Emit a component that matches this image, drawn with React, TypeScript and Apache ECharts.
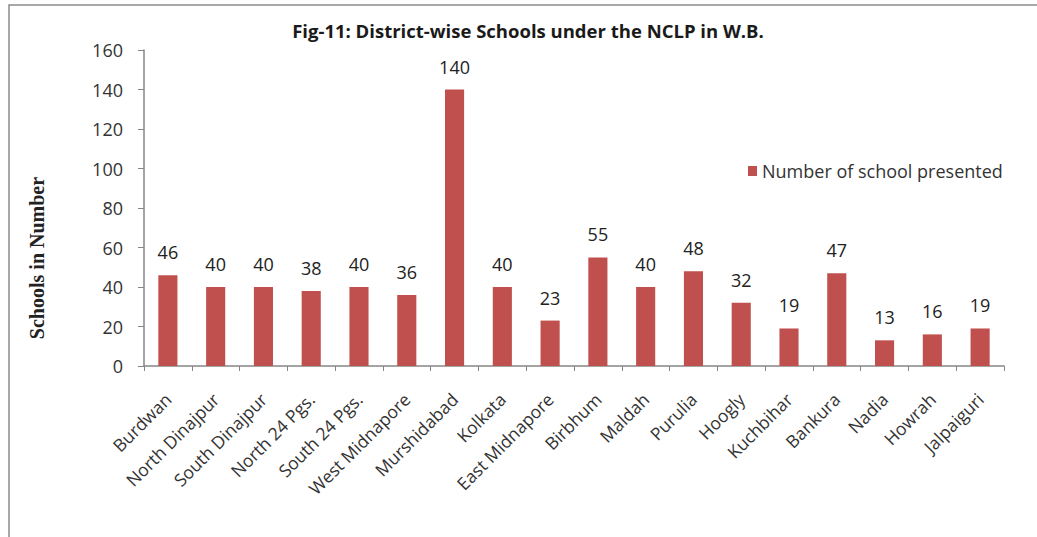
import React, { useEffect, useRef } from "react";
import * as echarts from "echarts";

const districts = [
  "Burdwan", "North Dinajpur", "South Dinajpur", "North 24 Pgs.", "South 24 Pgs.",
  "West Midnapore", "Murshidabad", "Kolkata", "East Midnapore", "Birbhum", "Maldah",
  "Purulia", "Hoogly", "Kuchbihar", "Bankura", "Nadia", "Howrah", "Jalpaiguri",
];
const schools = [46, 40, 40, 38, 40, 36, 140, 40, 23, 55, 40, 48, 32, 19, 47, 13, 16, 19];
const seriesName = "Number of school presented";
const titleText = "Fig-11: District-wise Schools under the NCLP in W.B.";
const yAxisName = "Schools in Number";

export default function App() {
  const ref = useRef<HTMLDivElement>(null);
  useEffect(() => {
    document.body.style.margin = "0";
    const chart = echarts.init(ref.current!, null, { renderer: "svg" });
    const font = "'Open Sans', sans-serif";
    chart.setOption({
      animation: false,
      backgroundColor: "#ffffff",
      title: {
        text: titleText,
        left: 523,
        textAlign: "center",
        top: 16,
        textStyle: { fontFamily: font, fontWeight: "bold", fontSize: 18.5, color: "#1a1a1a" },
      },
      legend: {
        data: [seriesName],
        left: 743,
        top: 157,
        icon: "rect",
        itemWidth: 9,
        itemHeight: 10,
        itemGap: 7,
        textStyle: { fontFamily: font, fontSize: 18, color: "#333" },
      },
      grid: { left: 144, right: 33, top: 50, bottom: 171, containLabel: false },
      xAxis: {
        type: "category",
        data: districts,
        axisLine: { lineStyle: { color: "#868686", width: 1.5 } },
        axisTick: { show: true, length: 5, lineStyle: { color: "#868686" } },
        axisLabel: {
          rotate: 45,
          interval: 0,
          margin: 30,
          fontFamily: font,
          fontSize: 17.5,
          color: "#333",
        },
      },
      yAxis: {
        type: "value",
        min: 0,
        max: 160,
        interval: 20,
        axisLine: { show: true, lineStyle: { color: "#868686", width: 1.5 } },
        axisTick: { show: true, length: 6, lineStyle: { color: "#868686" } },
        splitLine: { show: false },
        axisLabel: { fontFamily: font, fontSize: 18, color: "#333", margin: 21 },
      },
      series: [
        {
          name: seriesName,
          type: "bar",
          data: schools,
          barWidth: "40%",
          itemStyle: { color: "#C0504D" },
          label: {
            show: true,
            position: "top",
            distance: 14,
            fontFamily: font,
            fontSize: 18,
            color: "#222",
          },
        },
      ],
      graphic: [
        {
          type: "rect",
          shape: { x: 9, y: 5, width: 1100, height: 600 },
          style: { fill: "none", stroke: "#8c8c8c", lineWidth: 1.5 },
          silent: true,
        },
        {
          type: "text",
          x: 37,
          y: 258,
          rotation: Math.PI / 2,
          style: {
            text: yAxisName,
            align: "center",
            verticalAlign: "middle",
            font: "bold 20px 'Liberation Serif', serif",
            fill: "#222",
          },
          silent: true,
        },
      ],
    });
    return () => chart.dispose();
  }, []);
  return <div ref={ref} style={{ width: 1037, height: 537 }} />;
}
